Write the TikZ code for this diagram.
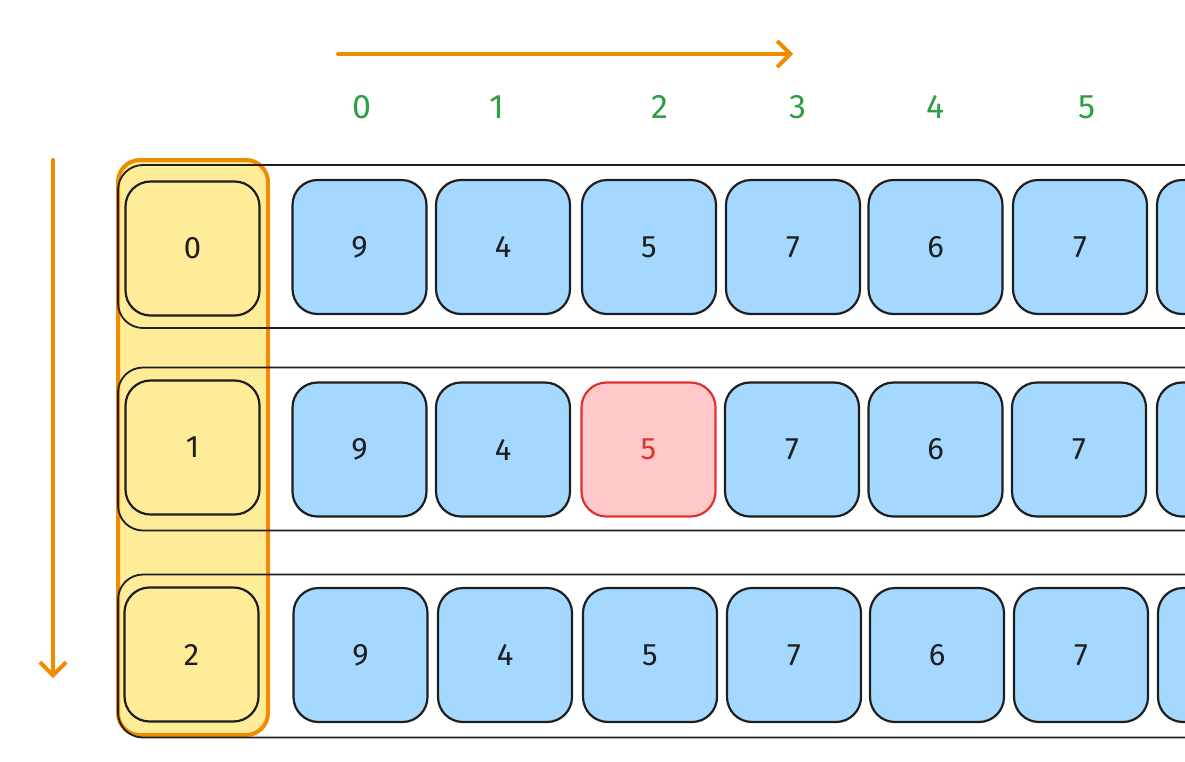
\documentclass[tikz,border=0pt]{standalone}
\usepackage{fontspec}
\setmainfont{Fira Sans}
\usetikzlibrary{arrows.meta}
\definecolor{cblue}{HTML}{A5D8FF}
\definecolor{cyellow}{HTML}{FFEC99}
\definecolor{credfill}{HTML}{FFC9C9}
\definecolor{credline}{HTML}{E03131}
\definecolor{cgreen}{HTML}{2F9E44}
\definecolor{corange}{HTML}{F08C00}
\definecolor{cink}{HTML}{1E1E1E}
\tikzset{
  cell/.style={draw=cink, line width=2.2pt, rounded corners=25pt, minimum width=134pt, minimum height=134pt, inner sep=0pt, font=\fontsize{31}{31}\selectfont, text=cink},
  bluecell/.style={cell, fill=cblue},
  idxcell/.style={cell, fill=cyellow},
  redcell/.style={cell, fill=credfill, draw=credline, text=credline},
  rowbox/.style={draw=cink, line width=1.8pt, rounded corners=25pt, minimum width=1142pt, minimum height=163pt, inner sep=0pt},
  colbox/.style={draw=corange, fill=cyellow, line width=4pt, rounded corners=22pt, minimum width=150pt, minimum height=575pt, inner sep=0pt},
  axis/.style={draw=corange, line width=4pt, line cap=round, -{Straight Barb[length=13pt,width=26pt,line width=4pt]}},
  collabel/.style={text=cgreen, font=\fontsize{34}{34}\selectfont, inner sep=0pt}
}
\begin{document}
\begin{tikzpicture}[x=1pt,y=-1pt]
\useasboundingbox (0,0) rectangle (1185,761);
\clip (0,0) rectangle (1185,761);
% orange column
\node[colbox] (col) at (193,447.5) {};
% row boxes
\node[rowbox] (r0) at (689,246.5) {};
\node[rowbox] (r1) at (689,449) {};
\node[rowbox] (r2) at (689,656) {};
% index cells
\node[idxcell] (i0) at (192.5,248.5) {0};
\node[idxcell] (i1) at (192.5,447.5) {1};
\node[idxcell] (i2) at (191.5,654.5) {2};
% row 0
\node[bluecell] (a0) at (359.5,247) {9};
\node[bluecell] (a1) at (503,247) {4};
\node[bluecell] (a2) at (649,247) {5};
\node[bluecell] (a3) at (793,247) {7};
\node[bluecell] (a4) at (935.5,247) {6};
\node[bluecell] (a5) at (1080,247) {7};
\node[bluecell] (a6) at (1224,247) {};
% row 1
\node[bluecell] (b0) at (359.5,449.5) {9};
\node[bluecell] (b1) at (503,449.5) {4};
\node[redcell] (b2) at (648.5,449.5) {5};
\node[bluecell] (b3) at (792,449.5) {7};
\node[bluecell] (b4) at (935.5,449.5) {6};
\node[bluecell] (b5) at (1079,449.5) {7};
\node[bluecell] (b6) at (1224,449.5) {};
% row 2
\node[bluecell] (c0) at (360.5,655) {9};
\node[bluecell] (c1) at (505,655) {4};
\node[bluecell] (c2) at (650,655) {5};
\node[bluecell] (c3) at (794,655) {7};
\node[bluecell] (c4) at (937,655) {6};
\node[bluecell] (c5) at (1081,655) {7};
\node[bluecell] (c6) at (1225,655) {};
% column labels
\node[collabel] (l0) at (362,107) {0};
\node[collabel] (l1) at (497,107) {1};
\node[collabel] (l2) at (660,107) {2};
\node[collabel] (l3) at (798,107) {3};
\node[collabel] (l4) at (936,107) {4};
\node[collabel] (l5) at (1087,107) {5};
% axes
\coordinate (hs) at (338,54);
\coordinate (he) at (793,54);
\coordinate (vs) at (53,160);
\coordinate (ve) at (53,678);
\draw[axis] (hs) -- (he);
\draw[axis] (vs) -- (ve);
\end{tikzpicture}
\end{document}
